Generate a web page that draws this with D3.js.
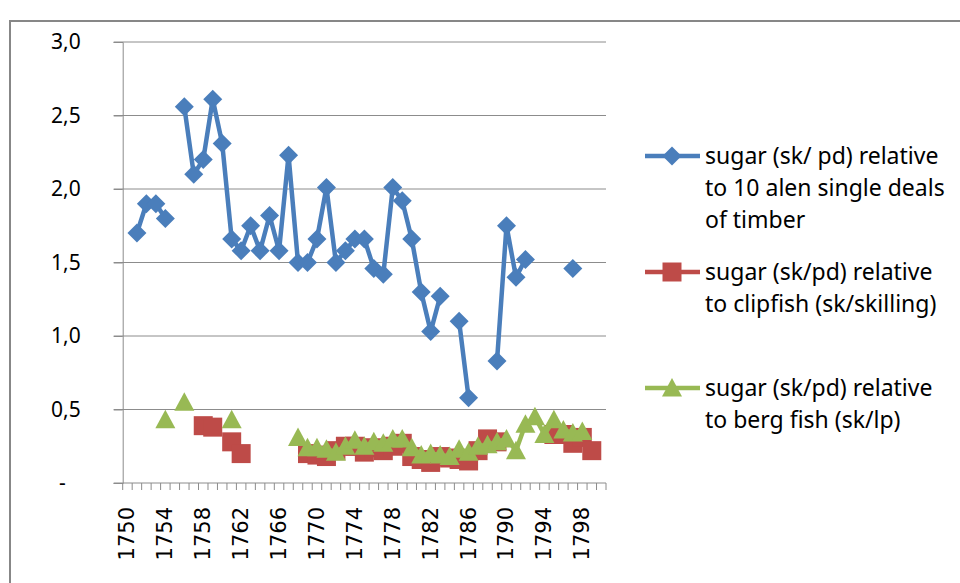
<!DOCTYPE html>
<html>
<head>
<meta charset="utf-8">
<script src="https://cdn.jsdelivr.net/npm/d3@7"></script>
<style>
  body { margin: 0; background: #fff; }
  svg { display: block; }
  text { font-family: "Noto Sans", sans-serif; fill: #000; }
</style>
</head>
<body>
<svg id="chart"></svg>
<script>
// categories: one per year, 1750 - 1800
const years = d3.range(1750, 1801);

// sugar (sk/ pd) relative to 10 alen single deals of timber
const timber = [
  null, 1.70, 1.90, 1.90, 1.80, null, 2.56, 2.10, 2.20, 2.61,
  2.31, 1.66, 1.58, 1.75, 1.58, 1.82, 1.58, 2.23, 1.50, 1.50,
  1.66, 2.01, 1.50, 1.58, 1.66, 1.66, 1.46, 1.42, 2.01, 1.92,
  1.66, 1.30, 1.03, 1.27, null, 1.10, 0.58, null, null, 0.83,
  1.75, 1.40, 1.52, null, null, null, null, 1.46, null, null,
  null
];

// sugar (sk/pd) relative to clipfish (sk/skilling)
const clipfish = [
  null, null, null, null, null, null, null, null, 0.39, 0.38,
  null, 0.28, 0.20, null, null, null, null, null, null, 0.20,
  0.19, 0.18, 0.22, 0.25, 0.25, 0.21, 0.24, 0.22, 0.25, 0.27,
  0.18, 0.16, 0.14, 0.18, 0.17, 0.16, 0.15, 0.22, 0.30, 0.28,
  null, null, null, null, null, 0.33, 0.33, 0.27, 0.31, 0.22,
  null
];

// sugar (sk/pd) relative to berg fish (sk/lp)
const bergFish = [
  null, null, null, null, 0.43, null, 0.55, null, null, null,
  null, 0.43, null, null, null, null, null, null, 0.31, 0.24,
  0.24, 0.23, 0.21, 0.25, 0.29, 0.25, 0.28, 0.27, 0.30, 0.30,
  0.24, 0.19, 0.20, 0.19, 0.18, 0.23, 0.21, 0.25, 0.26, 0.28,
  0.30, 0.22, 0.40, 0.45, 0.33, 0.43, 0.36, 0.34, 0.35, null,
  null
];

// axis ticks and labels
const yTicks = [0, 0.5, 1.0, 1.5, 2.0, 2.5, 3.0];
const yTickLabels = ["-", "0,5", "1,0", "1,5", "2,0", "2,5", "3,0"];
const xLabelYears = [1750, 1754, 1758, 1762, 1766, 1770, 1774, 1778, 1782, 1786, 1790, 1794, 1798];

const seriesNames = [
  ["sugar (sk/ pd) relative", "to 10 alen single deals", "of timber"],
  ["sugar (sk/pd) relative", "to clipfish (sk/skilling)"],
  ["sugar (sk/pd) relative", "to berg fish (sk/lp)"]
];

/**
 * Build a marker path for a given shape, centred on 0,0
 */
function markerPath(shape) {
    if (shape === "diamond") return "M0,-9.5L9.5,0L0,9.5L-9.5,0Z";
    if (shape === "square") return "M-9.5,-9.5H9.5V9.5H-9.5Z";
    return "M0,-10L10,8.5L-10,8.5Z";
}

/**
 * Plot chart using D3
 */
function plotChart() {
    const width = 960, height = 583;
    const left = 122.7, right = 606, top = 42, bottom = 483;

    const svg = d3.select("#chart")
        .attr("width", width)
        .attr("height", height);

    // outer chart border
    svg.append("rect")
        .attr("x", 10).attr("y", 21)
        .attr("width", 1000).attr("height", 620)
        .attr("fill", "none")
        .attr("stroke", "#878787")
        .attr("stroke-width", 2);

    const xScale = d3.scaleBand()
        .domain(years)
        .range([left, right]);

    const yScale = d3.scaleLinear()
        .domain([0, 3])
        .range([bottom, top]);

    const cx = yr => xScale(yr) + xScale.bandwidth() / 2;

    // gridlines + y ticks
    svg.append("g")
        .selectAll("line")
        .data(yTicks.slice(1))
        .enter()
        .append("line")
        .attr("x1", left - 9)
        .attr("x2", right)
        .attr("y1", d => yScale(d))
        .attr("y2", d => yScale(d))
        .attr("stroke", "#8c8c8c")
        .attr("stroke-width", 1);

    // y axis
    const yAxis = d3.axisLeft(yScale)
        .tickValues(yTicks)
        .tickSize(9)
        .tickFormat((d, i) => yTickLabels[i]);

    const gy = svg.append("g")
        .attr("transform", `translate(${left}, 0)`)
        .call(yAxis);
    gy.select(".domain").attr("stroke", "#8c8c8c");
    gy.selectAll(".tick line").attr("stroke", "#8c8c8c");
    gy.selectAll(".tick text")
        .attr("x", d => d === 0 ? -57 : -42)
        .style("font-size", "21px")
        .style("font-family", "'Noto Sans', sans-serif");

    // x axis: ticks at category boundaries
    const gx = svg.append("g")
        .attr("transform", `translate(0, ${bottom})`);

    gx.append("line")
        .attr("x1", left - 9)
        .attr("x2", right)
        .attr("stroke", "#8c8c8c");

    gx.selectAll(".xtick")
        .data(years.concat([1801]))
        .enter()
        .append("line")
        .attr("x1", d => d === 1801 ? right : xScale(d))
        .attr("x2", d => d === 1801 ? right : xScale(d))
        .attr("y1", 0)
        .attr("y2", 7)
        .attr("stroke", "#8c8c8c");

    gx.selectAll(".xlabel")
        .data(xLabelYears)
        .enter()
        .append("text")
        .attr("transform", d => `translate(${cx(d)}, 24) rotate(-90)`)
        .attr("text-anchor", "end")
        .attr("dominant-baseline", "central")
        .style("font-family", "'DejaVu Sans', sans-serif")
        .style("font-size", "21px")
        .text(d => d);

    const series = [
        { values: timber, color: "#4a7ebb", shape: "diamond" },
        { values: clipfish, color: "#be4b48", shape: "square" },
        { values: bergFish, color: "#98b954", shape: "triangle" }
    ];

    const line = d3.line()
        .defined(d => d.v !== null)
        .x(d => cx(d.year))
        .y(d => yScale(d.v));

    series.forEach(s => {
        const pts = years.map((yr, i) => ({ year: yr, v: s.values[i] }));

        svg.append("path")
            .datum(pts)
            .attr("d", line)
            .attr("fill", "none")
            .attr("stroke", s.color)
            .attr("stroke-width", 4.5)
            .attr("stroke-linejoin", "round");

        svg.append("g")
            .selectAll("path")
            .data(pts.filter(d => d.v !== null))
            .enter()
            .append("path")
            .attr("transform", d => `translate(${cx(d.year)}, ${yScale(d.v)})`)
            .attr("d", markerPath(s.shape))
            .attr("fill", s.color);
    });

    // legend
    const legendY = [156, 272, 388];
    const legend = svg.append("g");

    series.forEach((s, i) => {
        const g = legend.append("g")
            .attr("transform", `translate(0, ${legendY[i]})`);

        g.append("line")
            .attr("x1", 645).attr("x2", 700)
            .attr("stroke", s.color)
            .attr("stroke-width", 4.5);

        g.append("path")
            .attr("transform", "translate(672, 0)")
            .attr("d", markerPath(s.shape))
            .attr("fill", s.color);

        seriesNames[i].forEach((txt, j) => {
            g.append("text")
                .attr("x", 705)
                .attr("y", 8 + j * 32)
                .style("font-size", "23px")
                .text(txt);
        });
    });
}

plotChart();
</script>
</body>
</html>
